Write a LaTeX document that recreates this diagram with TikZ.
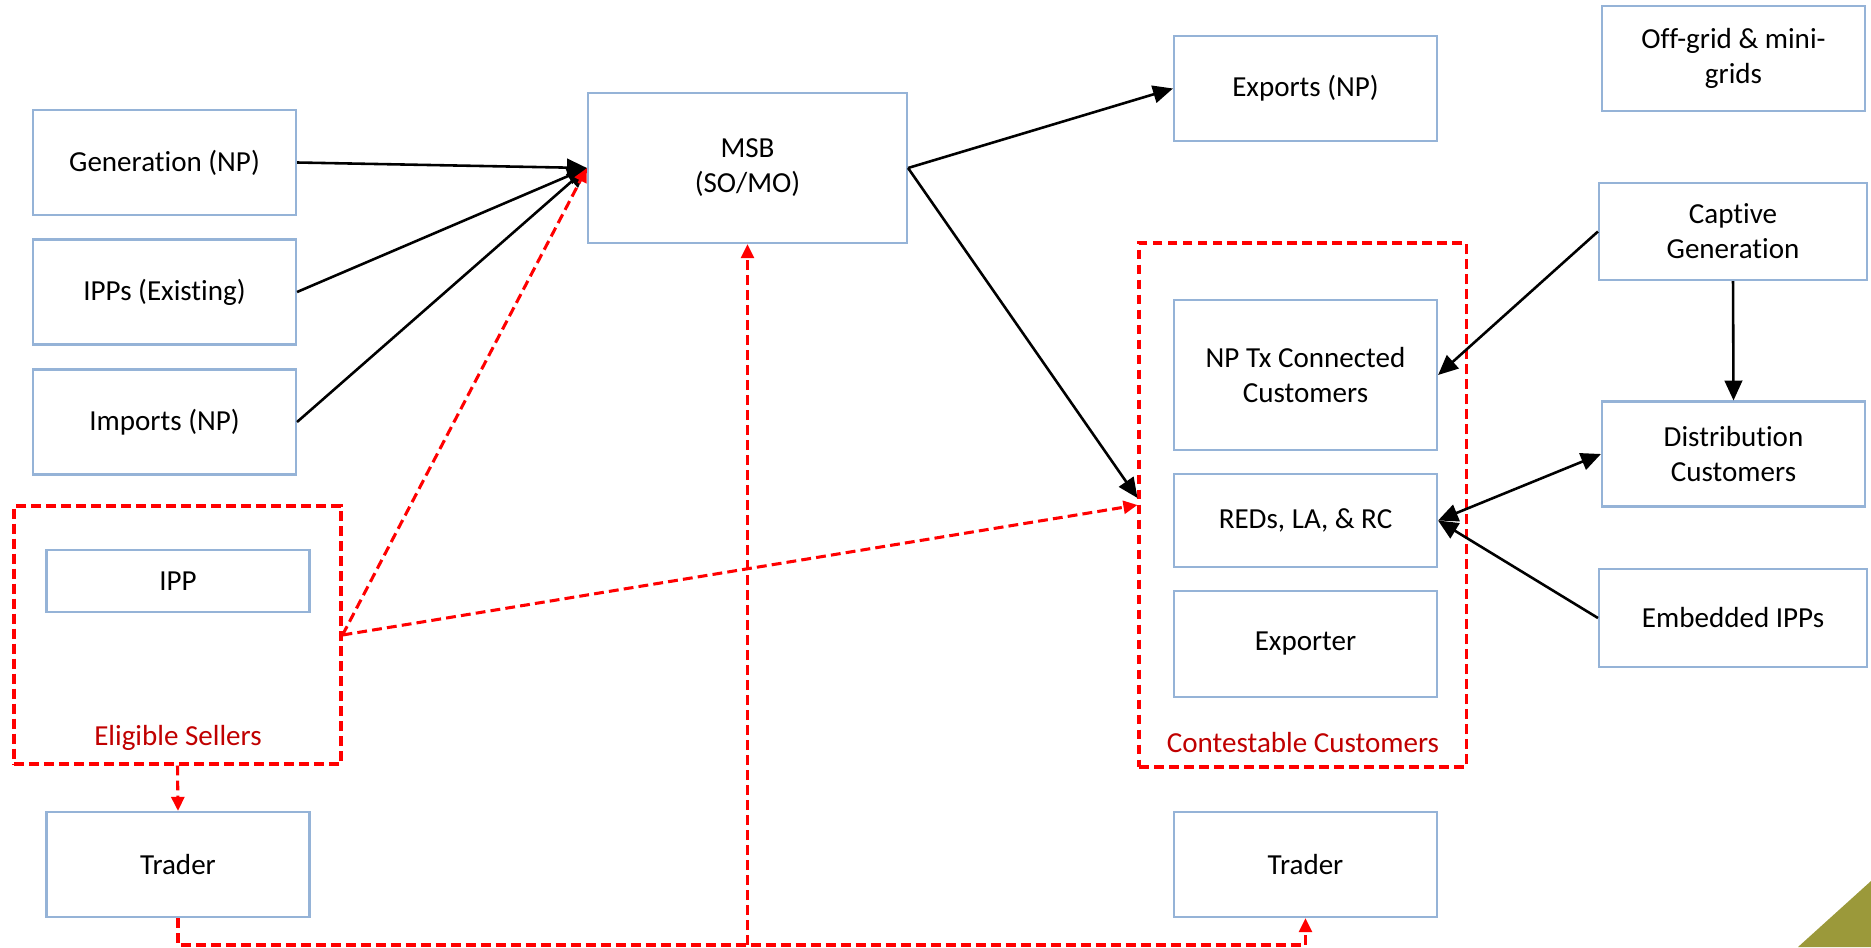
\documentclass[tikz,border=0pt]{standalone}
\usepackage{fontspec}
\setmainfont{Carlito}[Ligatures={NoCommon}]
\usepackage{tikz}
\usetikzlibrary{positioning}
\usetikzlibrary{arrows,arrows.meta,shapes}
\usetikzlibrary{calc}
\definecolor{boxblue}{RGB}{149,179,215}
\definecolor{dashred}{RGB}{255,0,0}
\definecolor{labelred}{RGB}{192,0,0}
\definecolor{cornerolive}{RGB}{155,153,58}
\newcommand{\diagfont}{\fontsize{12.4}{15}\selectfont}
\tikzstyle{unitbox}=[rectangle,draw=boxblue,line width=0.9pt,minimum width=3.945cm,minimum height=1.575cm,inner sep=0pt,align=center,font=\diagfont]
\tikzstyle{groupbox}=[rectangle,draw=dashred,line width=1.3pt,dash pattern=on 4.2pt off 2.2pt,inner sep=0pt]
\tikzstyle{grouplabel}=[text=labelred,font=\diagfont,inner sep=0pt]
\tikzstyle{flow}=[-{Triangle[length=8.5pt,width=7.5pt]},line width=1.1pt,black]
\tikzstyle{deal}=[-{Triangle[length=6pt,width=5.5pt]},line width=1.3pt,dashred,dash pattern=on 4.2pt off 2.2pt]

\begin{document}
\begin{tikzpicture}[x=1.5cm,y=-1.5cm]
\useasboundingbox (0,0) rectangle (18.71,9.47);

%groups
    \node[groupbox,minimum width=4.905cm,minimum height=3.87cm] (Eligible) at (1.775,6.35) {};
    \node[groupbox,minimum width=4.905cm,minimum height=7.86cm] (Contestable) at (13.025,5.05) {};
    \node[grouplabel] (EligibleLabel) at (1.78,7.38) {Eligible Sellers};
    \node[grouplabel] (ContestableLabel) at (13.03,7.43) {Contestable Customers};

%boxes
    \foreach \pos/\name/\label in {{(1.645,1.625)/Gen/Generation (NP)}, {(1.645,2.92)/IPPs/IPPs (Existing)}, {(1.645,4.22)/Imports/Imports (NP)}, {(1.78,8.645)/TraderL/Trader}, {(13.055,0.885)/Exports/Exports (NP)}, {(13.055,8.645)/TraderR/Trader}, {(17.335,4.54)/Distribution/{Distribution\\Customers}}}
        \node[unitbox] (\name) at \pos {\label};

    \node[unitbox,minimum height=0.93cm] (IPP) at (1.78,5.81) {IPP};
    \node[unitbox,minimum width=4.785cm,minimum height=2.25cm] (MSB) at (7.475,1.68) {MSB\\(SO/MO)};
    \node[unitbox] (Offgrid) at (17.335,0.585) {Off-grid \& mini-\\grids};
    \node[unitbox,minimum width=4.02cm,minimum height=1.455cm] (Captive) at (17.33,2.315) {Captive\\Generation};
    \node[unitbox,minimum width=4.02cm,minimum height=1.47cm] (Embedded) at (17.33,6.18) {Embedded IPPs};
    \node[unitbox,minimum height=2.25cm] (NPTx) at (13.055,3.75) {NP Tx Connected\\Customers};
    \node[unitbox,minimum height=1.395cm] (REDs) at (13.055,5.205) {REDs, LA, \& RC};
    \node[unitbox,minimum height=1.59cm] (Exporter) at (13.055,6.44) {Exporter};

%flows
    \coordinate (ContestIn) at ($(Contestable.west)+(0,-0.07)$);
    \foreach \source/\dest in {Gen.east/MSB.west, IPPs.east/MSB.west, Imports.east/MSB.west, MSB.east/Exports.west, MSB.east/ContestIn, Captive.west/NPTx.east, Captive.south/Distribution.north, Embedded.west/REDs.east}
        \draw[flow] (\source) -- (\dest);
    \draw[flow,{Triangle[length=8.5pt,width=7.5pt]}-{Triangle[length=8.5pt,width=7.5pt]}] (REDs.east) -- (Distribution.west);

%trading
    \coordinate (Bus) at (7.475,9.45);
    \foreach \source/\dest in {Eligible.east/MSB.west, Eligible.east/Contestable.west, Eligible.south/TraderL.north, Bus/MSB.south}
        \draw[deal] (\source) -- (\dest);
    \draw[deal] (TraderL.south) |- (Bus) -| (TraderR.south);

%corner
    \fill[cornerolive] (17.98,9.47) -- (18.71,8.81) -- (18.71,9.47) -- cycle;

\end{tikzpicture}
\end{document}
